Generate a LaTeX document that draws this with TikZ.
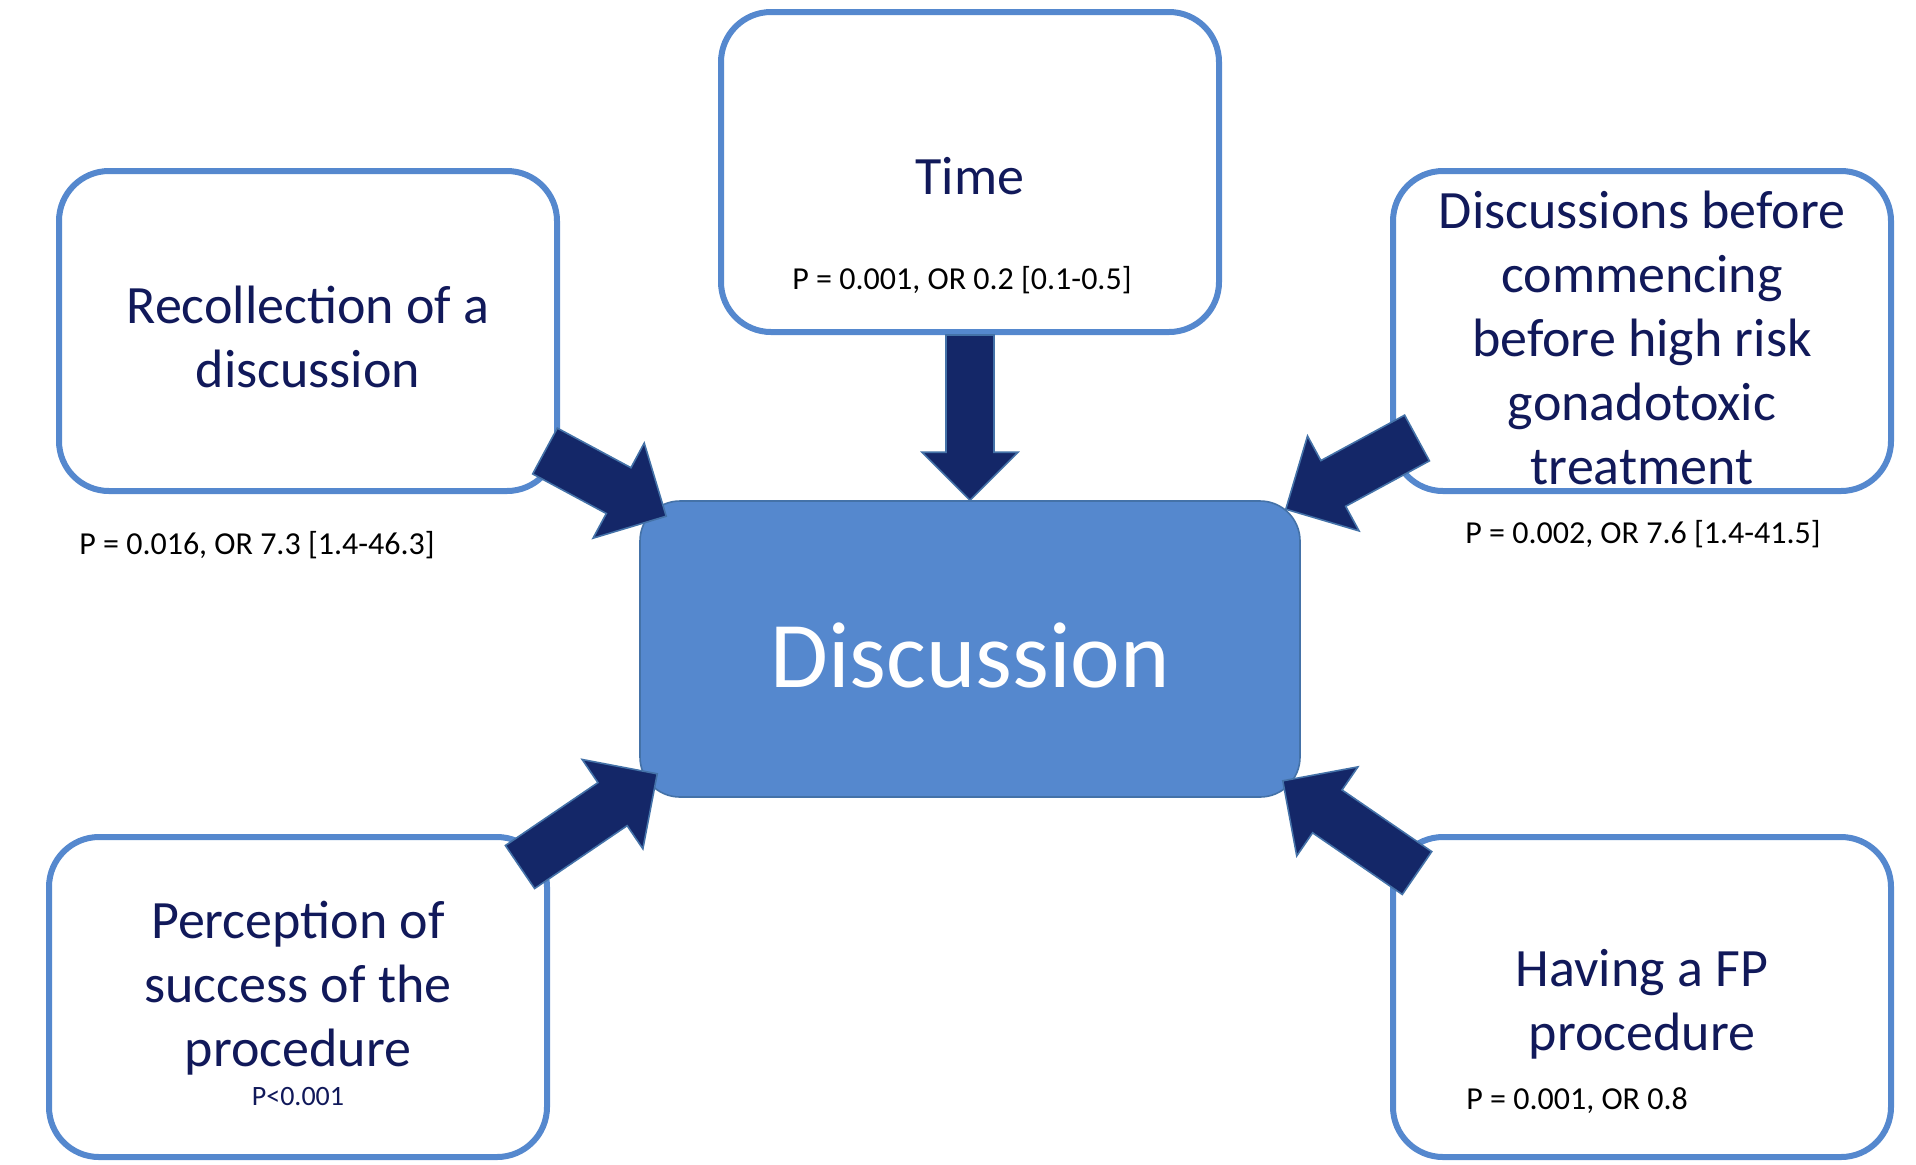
\documentclass[tikz,border=0pt]{standalone}
\usepackage{fontspec}
\setmainfont{Carlito}
\usepackage{tikz}
\usetikzlibrary{positioning,calc}
\definecolor{boxblue}{RGB}{85,136,206}
\definecolor{boxedge}{RGB}{68,114,168}
\definecolor{arrownavy}{RGB}{20,39,104}
\definecolor{textnavy}{RGB}{17,25,90}
% #1 half shaft width, #2 half head width (= head length), #3 tail, #4 tip
\newcommand{\fatarrow}[4]{%
  \coordinate (hb) at ($(#4)!#2!(#3)$);
  \filldraw[fat] ($(#3)!#1!90:(#4)$) -- ($(hb)!#1!90:(#4)$) -- ($(hb)!#2!90:(#4)$) -- (#4)
    -- ($(hb)!#2!-90:(#4)$) -- ($(hb)!#1!-90:(#4)$) -- ($(#3)!#1!-90:(#4)$) -- cycle;
}

\begin{document}
\begin{tikzpicture}[
    x=0.5pt, y=-0.5pt,
    factor/.style={rectangle, rounded corners=25pt, draw=boxblue, line width=3pt, fill=white,
        minimum width=249pt, minimum height=160pt, inner sep=0pt, align=center,
        text=textnavy, font=\fontsize{27}{32}\selectfont},
    centre/.style={rectangle, rounded corners=20pt, draw=boxedge, line width=0.8pt, fill=boxblue,
        minimum width=330pt, minimum height=148pt, text=white, text height=38pt, text depth=0pt,
        font=\fontsize{47}{56}\selectfont},
    plabel/.style={inner sep=0pt, font=\fontsize{16}{19}\selectfont},
    fat/.style={fill=arrownavy, draw=boxedge, line width=0.8pt, line join=miter}
]
    \useasboundingbox (0,0) rectangle (1916,1164);

    \node[centre] (disc) at (970,649) {Discussion};

    \node[factor] (time) at (970,172) {\rule{0pt}{23pt}Time};
    \node[plabel] (timep) at (962,280) {P = 0.001, OR 0.2 [0.1-0.5]};

    \node[factor] (rec) at (308,331) {\rule{0pt}{25pt}Recollection of a\\discussion};
    \node[plabel] (recp) at (257,545) {P = 0.016, OR 7.3 [1.4-46.3]};

    \node[factor] (dbef) at (1642,331) {\rule{0pt}{26pt}Discussions before\\commencing\\before high risk\\gonadotoxic\\treatment};
    \node[plabel] (dbefp) at (1643,534) {P = 0.002, OR 7.6 [1.4-41.5]};

    \node[factor] (perc) at (298,997) {\rule{0pt}{25pt}Perception of\\success of the\\procedure\\[-12.3pt]{\fontsize{14}{16}\selectfont P<0.001}};

    \node[factor] (fp) at (1642,997) {\rule{0pt}{26pt}Having a FP\\procedure};
    \node[plabel, anchor=west] (fpp) at (1466,1101) {P = 0.001, OR 0.8};

    % arrows into the centre
    \fatarrow{12pt}{24pt}{time.south}{disc.north}
    \fatarrow{13pt}{27pt}{[shift={(-15,-43)}]rec.south east}{[shift={(27,16)}]disc.north west}
    \fatarrow{13pt}{27pt}{[shift={(27,-56)}]dbef.south west}{[shift={(-15,9)}]disc.north east}
    \fatarrow{13pt}{27pt}{[shift={(-30,33)}]perc.north east}{[shift={(18,-24)}]disc.south west}
    \fatarrow{13pt}{27pt}{[shift={(27,39)}]fp.north west}{[shift={(-18,-17)}]disc.south east}
\end{tikzpicture}
\end{document}
